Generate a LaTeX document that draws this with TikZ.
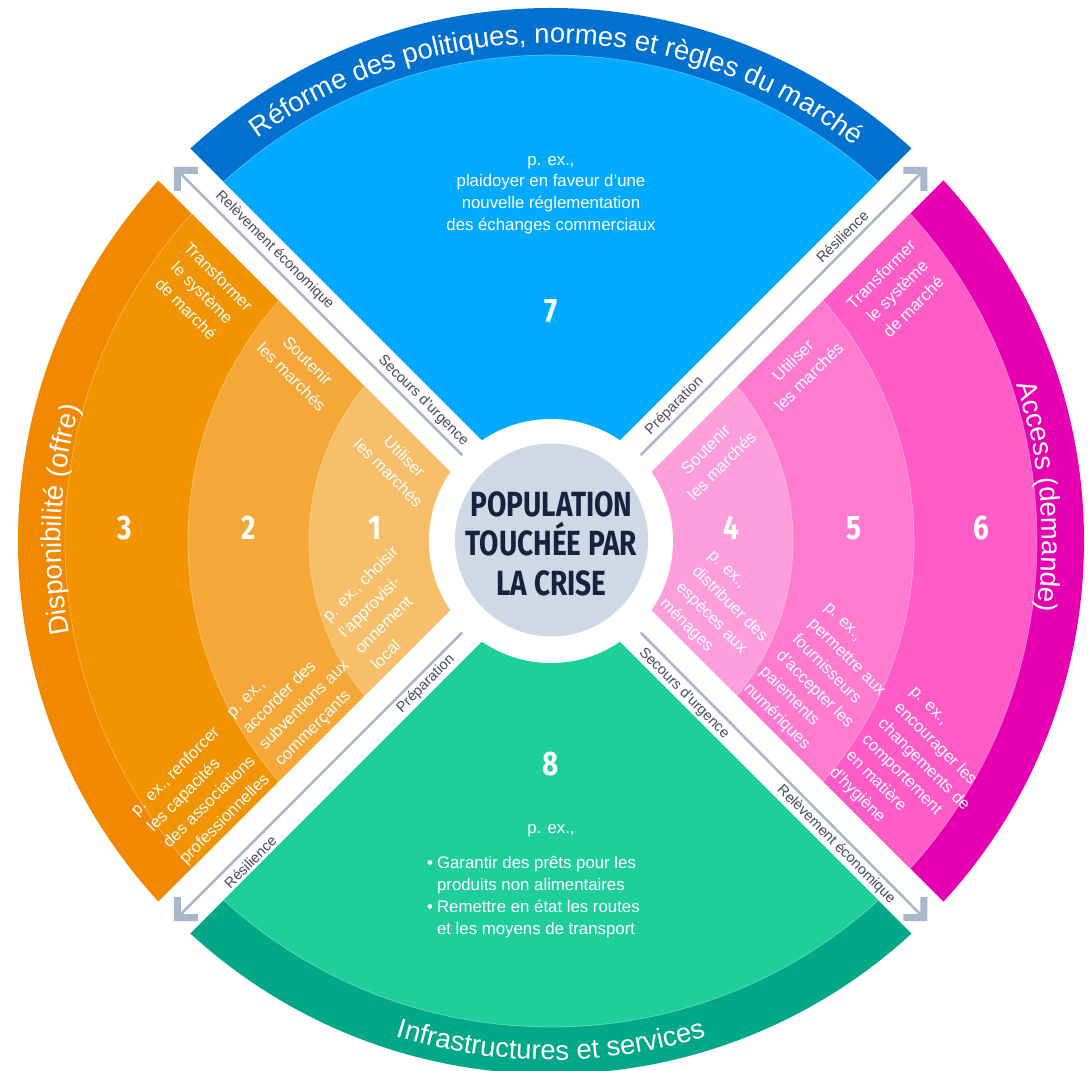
\documentclass[tikz,border=0pt]{standalone}
\usepackage{fontspec}
\setmainfont{Liberation Sans}
\newfontfamily\condfont[FakeStretch=0.82]{Fira Sans}
\newfontfamily\titlecond[FakeStretch=0.80]{Fira Sans}
\usetikzlibrary{decorations.text}
\definecolor{blueD}{HTML}{0071CE}
\definecolor{blueL}{HTML}{00ABFF}
\definecolor{oBand}{HTML}{F18800}
\definecolor{oThree}{HTML}{F29300}
\definecolor{oTwo}{HTML}{F5A838}
\definecolor{oOne}{HTML}{F7BF69}
\definecolor{pBand}{HTML}{E600B2}
\definecolor{pSix}{HTML}{FF5CC8}
\definecolor{pFive}{HTML}{FF7BD0}
\definecolor{pFour}{HTML}{FF9EDD}
\definecolor{gD}{HTML}{00A887}
\definecolor{gL}{HTML}{1FCF9A}
\definecolor{centerc}{HTML}{CFD9E5}
\definecolor{navy}{HTML}{16233F}
\definecolor{arrowc}{HTML}{A8B7C9}
\definecolor{labelc}{HTML}{454B5A}
\newcommand\ringfont{\fontsize{16.5}{22.8}\selectfont}
\newcommand\gapfont{\fontsize{14.5}{16}\selectfont}
\newcommand\numfont{\condfont\bfseries\fontsize{34}{34}\selectfont}
\newcommand\bodyfont{\fontsize{16.8}{21.8}\selectfont}
\newcommand\titlefont{\titlecond\bfseries\fontsize{35}{39.5}\selectfont}
\newcommand\bandfont{\fontsize{27.5}{30}\selectfont}
\tikzset{
  ringtxt/.style={text=white, font=\ringfont, inner sep=0pt},
  gaptxt/.style={text=labelc, font=\gapfont, inner sep=0pt},
  numtxt/.style={text=white, font=\numfont, inner sep=0pt},
  bodytxt/.style={text=white, font=\bodyfont, inner sep=0pt},
  arrowl/.style={draw=arrowc, line width=2.6},
  sepline/.style={draw=white, draw opacity=0.35, line width=0.7},
  lhead/.pic={\fill[arrowc] (0,0) -- (24,0) -- (24,-7) -- (7,-7) -- (7,-24) -- (0,-24) -- cycle;}
}
\begin{document}
\begin{tikzpicture}[x=1pt,y=1pt]
\useasboundingbox (-551,-530) rectangle (539,541);
% left quadrant
\begin{scope}
\clip (-32,0) -- (-650,618) -- (-650,-618) -- cycle;
\fill[oBand] (0,0) circle[radius=533];
\fill[oThree] (0,0) circle[radius=486];
\fill[oTwo] (0,0) circle[radius=363];
\fill[oOne] (0,0) circle[radius=242];
\draw[sepline] (0,0) circle[radius=486] (0,0) circle[radius=363] (0,0) circle[radius=242];
\end{scope}
% right quadrant
\begin{scope}
\clip (32,0) -- (650,618) -- (650,-618) -- cycle;
\fill[pBand] (0,0) circle[radius=533];
\fill[pSix] (0,0) circle[radius=486];
\fill[pFive] (0,0) circle[radius=363];
\fill[pFour] (0,0) circle[radius=242];
\draw[sepline] (0,0) circle[radius=486] (0,0) circle[radius=363] (0,0) circle[radius=242];
\end{scope}
% top quadrant
\begin{scope}
\clip (0,32) -- (-618,650) -- (618,650) -- cycle;
\fill[blueD] (0,0) circle[radius=533];
\fill[blueL] (0,0) circle[radius=486];
\draw[sepline] (0,0) circle[radius=486];
\end{scope}
% bottom quadrant
\begin{scope}
\clip (0,-32) -- (-618,-650) -- (618,-650) -- cycle;
\fill[gD] (0,0) circle[radius=533];
\fill[gL] (0,0) circle[radius=486];
\draw[sepline] (0,0) circle[radius=486];
\end{scope}
% centre
\fill[white] (0,0) circle[radius=122];
\node[circle, fill=centerc, minimum size=193, inner sep=0pt] (core) at (0.5,1) {};
\node[text=navy, font=\titlefont, align=center, inner sep=0pt] (title) at (0.5,-2.5) {POPULATION\\TOUCHÉE PAR\\LA CRISE};
% arrows
\coordinate (tlS) at (-88.7,85.7); \coordinate (tlE) at (-375,372);
\coordinate (trS) at (89.6,85.7);  \coordinate (trE) at (374,372);
\coordinate (blS) at (-88.7,-91.5); \coordinate (blE) at (-375,-378);
\coordinate (brS) at (89.6,-91.5);  \coordinate (brE) at (374,-378);
\draw[arrowl] (tlS) -- (tlE);
\draw[arrowl] (trS) -- (trE);
\draw[arrowl] (blS) -- (blE);
\draw[arrowl] (brS) -- (brE);
\pic at (-377.2,374.2) {lhead};
\pic[xscale=-1] at (376.3,374.2) {lhead};
\pic[yscale=-1] at (-377.2,-380.1) {lhead};
\pic[xscale=-1,yscale=-1] at (376.3,-380.1) {lhead};
% gap labels
\node[gaptxt, rotate=-45] (l1) at (-276.4,290.7) {Relèvement économique};
\node[gaptxt, rotate=-45] (l2) at (-127.8,140.4) {Secours d’urgence};
\node[gaptxt, rotate=45] (l3) at (291.2,304.6) {Résilience};
\node[gaptxt, rotate=45] (l4) at (123.5,135.2) {Préparation};
\node[gaptxt, rotate=45] (l5) at (-125.2,-142.8) {Préparation};
\node[gaptxt, rotate=45] (l6) at (-300.7,-320.9) {Résilience};
\node[gaptxt, rotate=-45] (l7) at (133,-152.4) {Secours d’urgence};
\node[gaptxt, rotate=-45] (l8) at (285.1,-303.6) {Relèvement économique};
% band titles
\path[decorate, decoration={text along path, text align=center, text={|\bandfont\color{white}|Réforme des politiques, normes et règles du marché}}] (134.3:498) arc[start angle=134.3, end angle=44.3, radius=498];
\path[decorate, decoration={text along path, text align=center, text={|\bandfont\color{white}|Disponibilité (offre)}}] (202.5:490) arc[start angle=202.5, end angle=152.5, radius=490];
\path[decorate, decoration={text along path, text align=center, text={|\bandfont\color{white}|Access (demande)}}] (35.2:491) arc[start angle=35.2, end angle=-24.8, radius=491];
\path[decorate, decoration={text along path, text align=center, text={|\bandfont\color{white}|Infrastructures et services}}] (235:519) arc[start angle=235, end angle=305, radius=519];
% numbers
\node[numtxt] (n1) at (-176.5,13) {1};
\node[numtxt] (n2) at (-302.5,13) {2};
\node[numtxt] (n3) at (-426,13) {3};
\node[numtxt] (n4) at (180.8,13) {4};
\node[numtxt] (n5) at (303.3,13) {5};
\node[numtxt] (n6) at (430,13) {6};
\node[numtxt] (n7) at (0,230) {7};
\node[numtxt] (n8) at (0,-223) {8};
% orange texts
\node[ringtxt, rotate=-45, align=center] (o3t) at (-348.7,248.3) {Transformer\\le système\\de marché};
\node[ringtxt, rotate=-45, align=center] (o2t) at (-251.2,172.2) {Soutenir\\les marchés};
\node[ringtxt, rotate=-45, align=center] (o1t) at (-154.4,76.3) {Utiliser\\les marchés};
\node[ringtxt, rotate=45, align=left] (o1b) at (-166.7,-66.6) {p. ex., choisir\\l’approvisi-\\onnement\\local};
\node[ringtxt, rotate=45, align=left] (o2b) at (-253.5,-157.6) {p. ex.,\\accorder des\\subventions aux\\commerçants};
\node[ringtxt, rotate=45, align=left] (o3b) at (-349.2,-253.3) {p. ex., renforcer\\les capacités\\des associations\\professionnelles};
% pink texts
\node[ringtxt, rotate=45, align=center] (p4t) at (162.6,83.6) {Soutenir\\les marchés};
\node[ringtxt, rotate=45, align=center] (p5t) at (249.8,172.6) {Utiliser\\les marchés};
\node[ringtxt, rotate=45, align=center] (p6t) at (346.1,250.4) {Transformer\\le système\\de marché};
\node[ringtxt, rotate=-45, align=left] (p4b) at (169.5,-72.4) {p. ex.,\\distribuer des\\espèces aux\\ménages};
\node[ringtxt, rotate=-45, align=left] (p5b) at (270.5,-141.8) {p. ex.,\\permettre aux\\fournisseurs\\d’accepter les\\paiements\\numériques};
\node[ringtxt, rotate=-45, align=left] (p6b) at (363.5,-233) {p. ex.,\\encourager les\\changements de\\comportement\\en matière\\d’hygiène};
% top and bottom body texts
\node[bodytxt, align=center] (t7) at (0,346) {p. ex.,\\plaidoyer en faveur d’une\\nouvelle réglementation\\des échanges commerciaux};
\node[bodytxt] (t8a) at (0,-290) {p. ex.,};
\node[bodytxt, anchor=west] (t8b) at (-124,-356) {\begin{tabular}{@{}l@{\hspace{4pt}}l@{}}•&Garantir des prêts pour les\\&produits non alimentaires\\•&Remettre en état les routes\\&et les moyens de transport\end{tabular}};
\end{tikzpicture}
\end{document}
